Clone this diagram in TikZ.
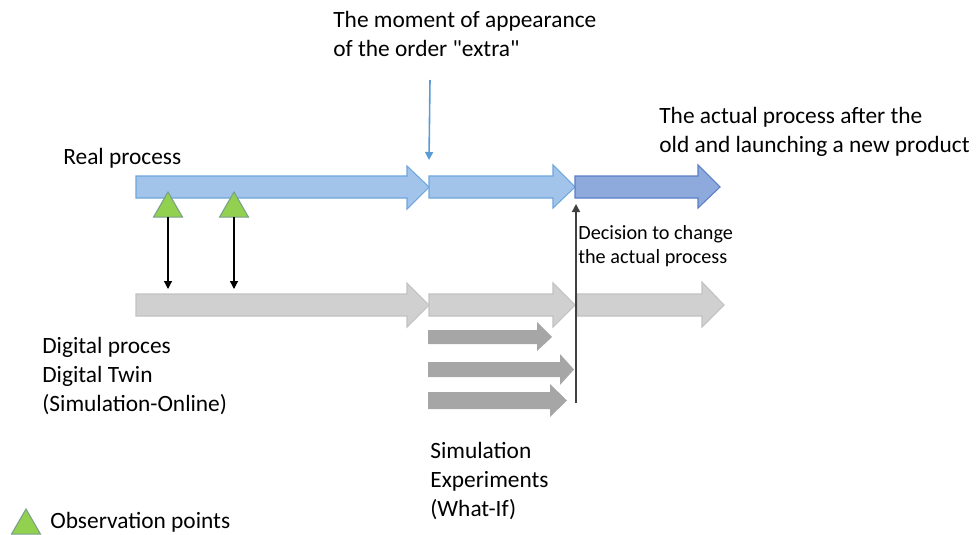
\documentclass[tikz,border=0pt]{standalone}
\usepackage{fontspec}
\setmainfont{Carlito}[Ligatures=TeXOff]
\usepackage{xcolor}
\usepackage{tikz}
\usetikzlibrary{arrows.meta,shapes.geometric}
\definecolor{realBlue}{HTML}{A2C4EA}
\definecolor{realEdge}{HTML}{6FA6DC}
\definecolor{newBlue}{HTML}{8EA9DB}
\definecolor{newEdge}{HTML}{5B7FC6}
\definecolor{twinGray}{HTML}{D0D0D0}
\definecolor{twinEdge}{HTML}{C2C2C2}
\definecolor{whatifGray}{HTML}{A6A6A6}
\definecolor{obsGreen}{HTML}{92D050}
\definecolor{obsEdge}{HTML}{7A9F8A}
\definecolor{momentBlue}{HTML}{5B9BD5}

\tikzset{
    realarrow/.style={fill=realBlue, draw=realEdge, line width=0.6pt, line join=miter},
    newarrow/.style={fill=newBlue, draw=newEdge, line width=0.6pt, line join=miter},
    twinarrow/.style={fill=twinGray, draw=twinEdge, line width=0.6pt, line join=miter},
    whatifarrow/.style={fill=whatifGray},
    obspoint/.style={regular polygon, regular polygon sides=3, fill=obsGreen, draw=obsEdge,
        line width=0.6pt, minimum size=0.67cm, inner sep=0pt, outer sep=0pt, anchor=corner 1},
    label/.style={inner sep=0pt, anchor=base west, align=left,
        font=\fontsize{13.3}{16.5}\selectfont},
    smalllabel/.style={inner sep=0pt, anchor=base west, align=left,
        font=\fontsize{11.5}{13.6}\selectfont},
    link/.style={-{Triangle[length=1.6mm,width=1.6mm]}, line width=0.7pt}
}

\begin{document}
\begin{tikzpicture}[x=0.02cm, y=-0.02cm]
                \useasboundingbox (0, 0) rectangle (979, 534);
                % real process
                \draw[realarrow] (136, 176) -- (407, 176) -- (407, 166) -- (429, 187) -- (407, 209) -- (407, 198) -- (136, 198) -- cycle;
                \draw[realarrow] (429, 176) -- (553, 176) -- (553, 165) -- (575, 187) -- (553, 208) -- (553, 198) -- (429, 198) -- cycle;
                \draw[newarrow] (575, 176) -- (698, 176) -- (698, 165) -- (720, 187) -- (698, 208) -- (698, 198) -- (575, 198) -- cycle;
                % digital twin
                \draw[twinarrow] (136, 294) -- (407, 294) -- (407, 283) -- (429, 305) -- (407, 327) -- (407, 316) -- (136, 316) -- cycle;
                \draw[twinarrow] (429, 294) -- (553, 294) -- (553, 283) -- (575, 305) -- (553, 327) -- (553, 316) -- (429, 316) -- cycle;
                \draw[twinarrow] (577, 294) -- (702, 294) -- (702, 282) -- (724, 305) -- (702, 327) -- (702, 316) -- (577, 316) -- cycle;
                % what-if experiments
                \fill[whatifarrow] (428, 330) -- (537, 330) -- (537, 322) -- (552, 337) -- (537, 351) -- (537, 344) -- (428, 344) -- cycle;
                \fill[whatifarrow] (428, 362) -- (560, 362) -- (560, 354) -- (574, 369.5) -- (560, 385) -- (560, 377) -- (428, 377) -- cycle;
                \fill[whatifarrow] (428, 392) -- (550, 392) -- (550, 384) -- (567, 400.5) -- (550, 417) -- (550, 409) -- (428, 409) -- cycle;

                % observation points
                \node[obspoint] (obs1) at (168, 192) {};
                \node[obspoint] (obs2) at (234, 192) {};
                \coordinate (twin1) at (168, 289);
                \coordinate (twin2) at (234, 289);
                \draw[link] (obs1.side 2) -- (twin1);
                \draw[link] (obs2.side 2) -- (twin2);

                % order "extra"
                \coordinate (extratop) at (430, 80);
                \coordinate (extrapt) at (429, 160);
                \draw[link, momentBlue, line width=0.9pt] (extratop) -- (extrapt);

                % decision
                \coordinate (decbot) at (576, 403);
                \coordinate (dectop) at (576, 204);
                \draw[link, line width=0.8pt, black!75] (decbot) -- (dectop);

                % texts (base = last line)
                \node[label] (moment) at (333, 56) {The moment of appearance\\of the order "extra"};
                \node[label] (actual) at (659, 152) {The actual process after the\\old and launching a new product};
                \node[label] (real) at (63, 164) {Real process};
                \node[smalllabel] (decision) at (578, 263) {Decision to change\\the actual process};
                \node[label] (digital) at (42, 411) {Digital proces\\Digital Twin\\(Simulation-Online)};
                \node[label] (whatif) at (430, 516) {Simulation\\Experiments\\(What-If)};

                % legend
                \node[obspoint] (legtri) at (26, 509) {};
                \node[label] (legend) at (50, 528) {Observation points};
\end{tikzpicture}
\end{document}
